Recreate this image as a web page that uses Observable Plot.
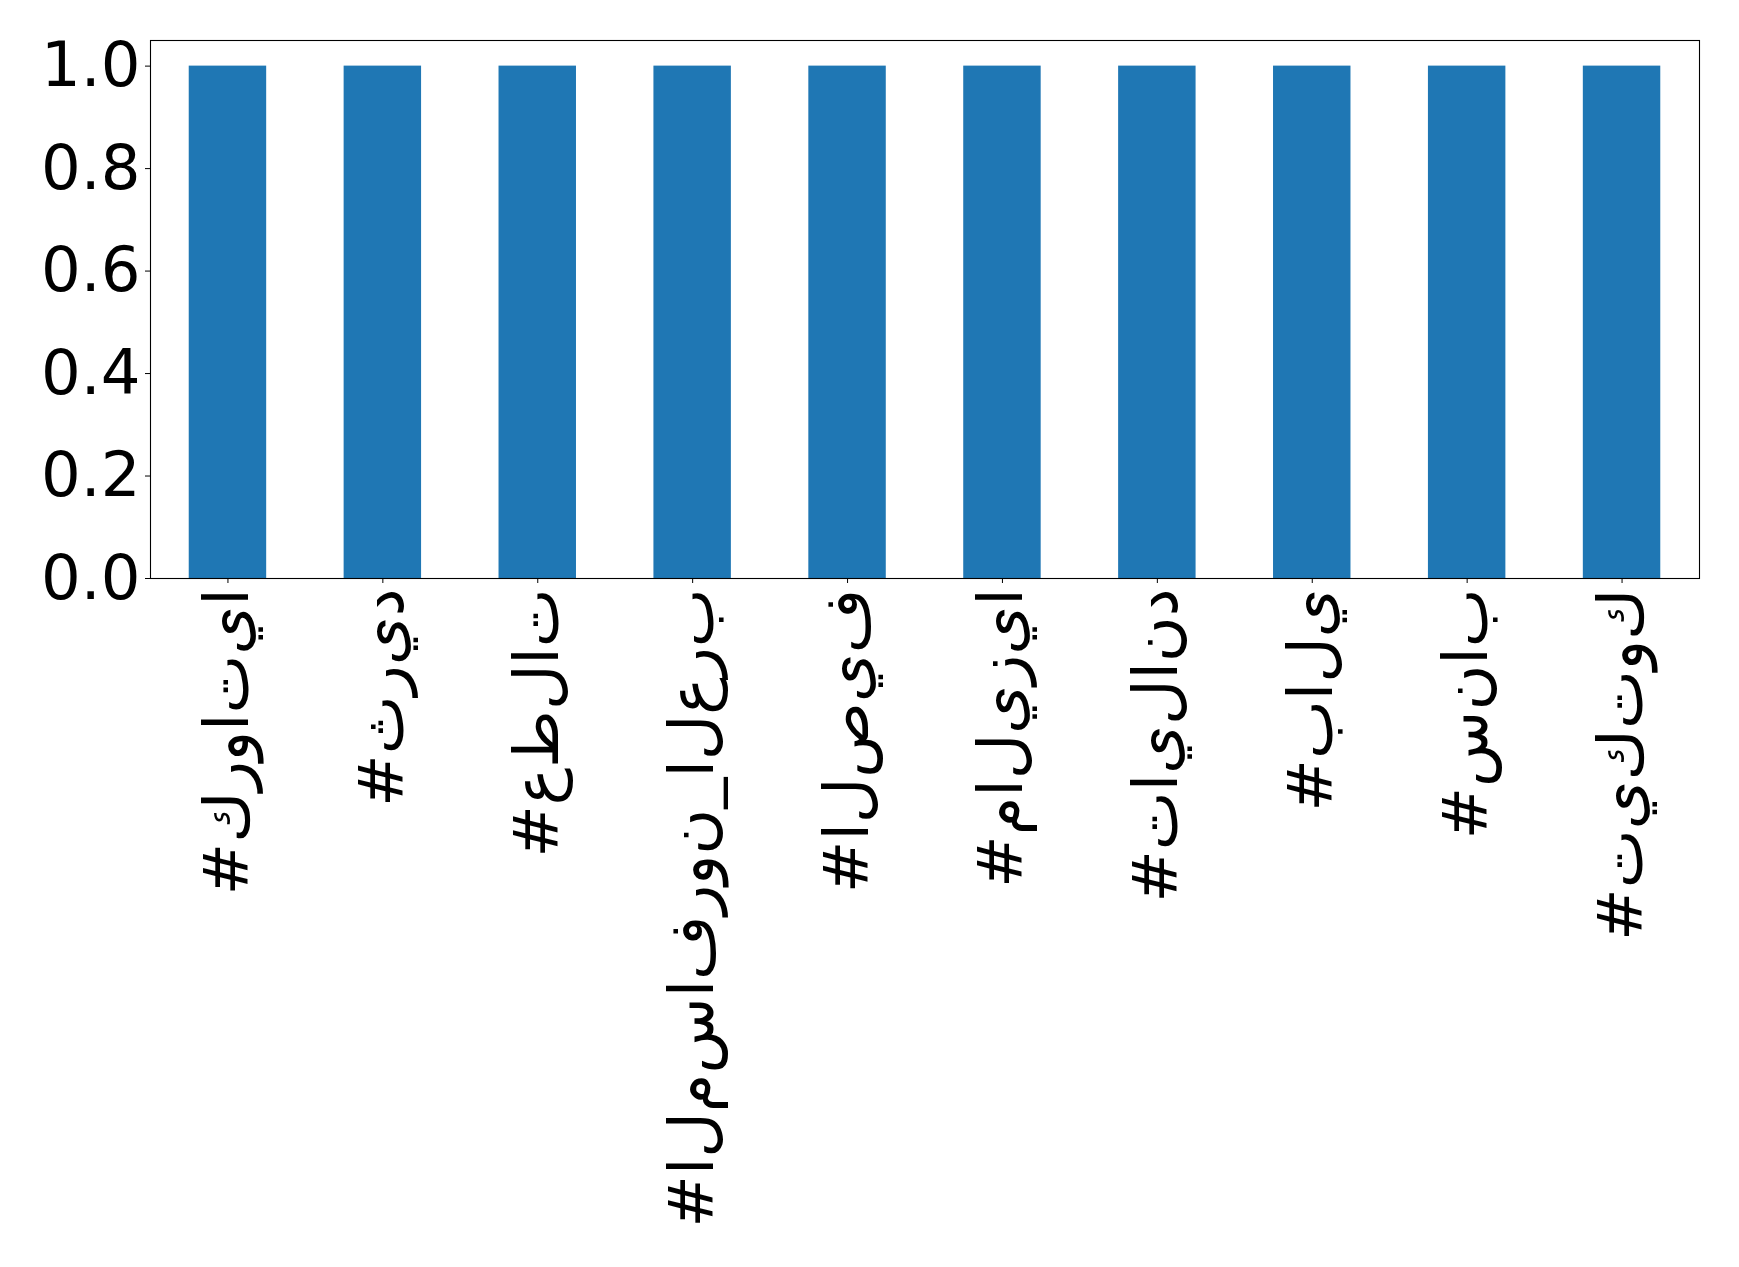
<!DOCTYPE html>
<html>
<head>
<meta charset="utf-8">
<script src="https://cdn.jsdelivr.net/npm/d3@7"></script>
<script src="https://cdn.jsdelivr.net/npm/@observablehq/plot@0.6"></script>
<style>
  html, body { margin: 0; padding: 0; background: #fff; }
  #chart svg { display: block; }
  g[aria-label="x-axis tick label"] text {
    direction: ltr;
    unicode-bidi: bidi-override;
    font-feature-settings: "init" 0, "medi" 0, "fina" 0, "rlig" 0, "liga" 0, "calt" 0;
  }
</style>
</head>
<body>
<div id="chart"></div>
<script>
const hashtags = ["#كرواتيا", "#ثريد", "#عطلات", "#المسافرون_العرب", "#الصيف", "#ماليزيا", "#تايلاند", "#بالي", "#سناب", "#تيكتوك"];
const counts = [1, 1, 1, 1, 1, 1, 1, 1, 1, 1];
const yTicks = [0, 0.2, 0.4, 0.6, 0.8, 1.0];

const data = hashtags.map((h, i) => ({tag: h, value: counts[i]}));

const chart = Plot.plot({
  width: 1739,
  height: 1267,
  marginLeft: 150,
  marginRight: 40,
  marginTop: 40,
  marginBottom: 689,
  style: {fontFamily: "DejaVu Sans", fontSize: "62.5px", color: "#000", background: "#fff"},
  x: {domain: hashtags, paddingInner: 0.5, paddingOuter: 0.25, round: false},
  y: {domain: [0, 1.05]},
  marks: [
    Plot.barY(data, {x: "tag", y: "value", fill: "#1f77b4"}),
    Plot.axisY({ticks: yTicks, tickFormat: d3.format(".1f"), tickSize: 5, tickPadding: 5, label: null, fontSize: 62.5}),
    Plot.axisX({tickRotate: -90, tickSize: 5, tickPadding: 5, label: null, fontSize: 62.5}),
    Plot.frame({stroke: "#000", strokeWidth: 1.1})
  ]
});
document.getElementById("chart").appendChild(chart);
</script>
</body>
</html>
